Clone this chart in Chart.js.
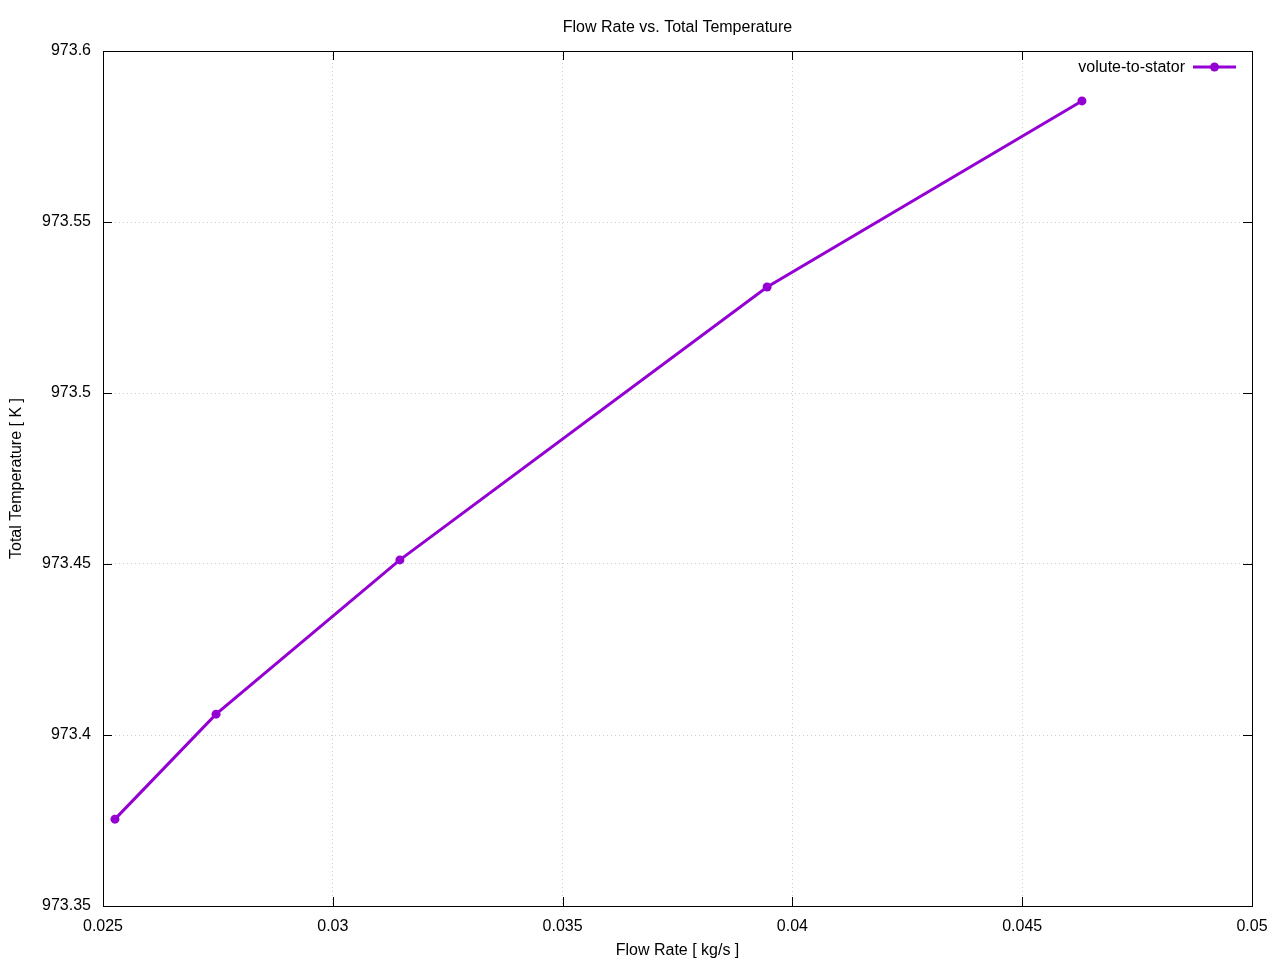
<!DOCTYPE html>
<html>
<head>
<meta charset="utf-8">
<style>
  html, body { margin: 0; padding: 0; background: #fff; }
  #wrap { width: 1280px; height: 960px; }
</style>
<script src="https://cdn.jsdelivr.net/npm/chart.js@4/dist/chart.umd.min.js"></script>
</head>
<body>
<div id="wrap"><canvas id="chart" width="1280" height="960"></canvas></div>
<script>
// data
const seriesLabel = 'volute-to-stator';
const flowRate = [0.02526, 0.02746, 0.03146, 0.03945, 0.04630];
const totalTemp = [973.3754, 973.4061, 973.4512, 973.5310, 973.5854];

const xTicks = [0.025, 0.03, 0.035, 0.04, 0.045, 0.05];
const yTicks = [973.35, 973.4, 973.45, 973.5, 973.55, 973.6];

const titleText = 'Flow Rate vs. Total Temperature';
const xTitle = 'Flow Rate [ kg/s ]';
const yTitle = 'Total Temperature [ K ]';

const lineColor = '#9400d3';
const fontFamily = '"Liberation Sans", Arial, sans-serif';
const fontSize = 16;

// gnuplot-like frame with inward ticks on all four sides, plus the key
const framePlugin = {
    id: 'frame',
    afterDraw(chart) {
        const {ctx, chartArea: a, scales} = chart;
        const tick = 9;
        ctx.save();
        ctx.strokeStyle = '#000';
        ctx.lineWidth = 1;
        ctx.beginPath();
        xTicks.forEach(v => {
            const px = Math.round(scales.x.getPixelForValue(v)) + 0.5;
            ctx.moveTo(px, a.bottom); ctx.lineTo(px, a.bottom - tick);
            ctx.moveTo(px, a.top); ctx.lineTo(px, a.top + tick);
        });
        yTicks.forEach(v => {
            const py = Math.round(scales.y.getPixelForValue(v)) + 0.5;
            ctx.moveTo(a.left, py); ctx.lineTo(a.left + tick, py);
            ctx.moveTo(a.right, py); ctx.lineTo(a.right - tick, py);
        });
        ctx.stroke();
        ctx.strokeRect(Math.round(a.left) + 0.5, Math.round(a.top) + 0.5,
            Math.round(a.right - a.left), Math.round(a.bottom - a.top));

        // key, top-right inside the frame
        const ds = chart.data.datasets[0];
        const ky = a.top + 16;
        const x1 = a.right - 59, x2 = a.right - 16;
        ctx.font = fontSize + 'px ' + fontFamily;
        ctx.fillStyle = '#000';
        ctx.textAlign = 'right';
        ctx.textBaseline = 'middle';
        ctx.fillText(ds.label, x1 - 8, ky + 1);
        ctx.strokeStyle = ds.borderColor;
        ctx.lineWidth = ds.borderWidth;
        ctx.beginPath();
        ctx.moveTo(x1, ky); ctx.lineTo(x2, ky);
        ctx.stroke();
        ctx.fillStyle = ds.borderColor;
        ctx.beginPath();
        ctx.arc((x1 + x2) / 2, ky, ds.pointRadius, 0, Math.PI * 2);
        ctx.fill();
        ctx.restore();
    }
};

new Chart(document.getElementById('chart'), {
    type: 'scatter',
    data: {
        datasets: [{
            label: seriesLabel,
            data: flowRate.map((x, i) => ({x, y: totalTemp[i]})),
            showLine: true,
            borderColor: lineColor,
            backgroundColor: lineColor,
            borderWidth: 3,
            pointRadius: 4.5,
            pointHoverRadius: 4.5,
            pointBorderWidth: 0,
            tension: 0
        }]
    },
    plugins: [framePlugin],
    options: {
        responsive: false,
        animation: false,
        layout: {padding: {left: 0, right: 28, top: 0, bottom: 0}},
        plugins: {
            legend: {display: false},
            tooltip: {enabled: false},
            title: {
                display: true,
                fullSize: false,
                text: titleText,
                color: '#000',
                font: {family: fontFamily, size: fontSize, weight: 'normal'},
                padding: {top: 18.4, bottom: 13.4}
            }
        },
        scales: {
            x: {
                type: 'linear',
                min: 0.025,
                max: 0.05,
                afterBuildTicks: s => { s.ticks = xTicks.map(v => ({value: v})); },
                afterFit: s => { s.height = 54; },
                ticks: {
                    color: '#000',
                    font: {family: fontFamily, size: fontSize},
                    padding: 11,
                    maxRotation: 0,
                    callback: v => String(v)
                },
                grid: {color: '#cfcfcf', lineWidth: 1, drawTicks: false},
                border: {display: false, dash: [1, 3]},
                title: {
                    display: true,
                    text: xTitle,
                    color: '#000',
                    font: {family: fontFamily, size: fontSize},
                    padding: {top: 0, bottom: 0}
                }
            },
            y: {
                type: 'linear',
                min: 973.35,
                max: 973.6,
                afterBuildTicks: s => { s.ticks = yTicks.map(v => ({value: v})); },
                afterFit: s => { s.width = 103; },
                ticks: {
                    color: '#000',
                    font: {family: fontFamily, size: fontSize},
                    padding: 12,
                    callback: v => String(Math.round(v * 100) / 100)
                },
                grid: {color: '#cfcfcf', lineWidth: 1, drawTicks: false},
                border: {display: false, dash: [1, 3]},
                title: {
                    display: true,
                    text: yTitle,
                    color: '#000',
                    font: {family: fontFamily, size: fontSize},
                    padding: {top: 7, bottom: 14}
                }
            }
        }
    }
});
</script>
</body>
</html>
